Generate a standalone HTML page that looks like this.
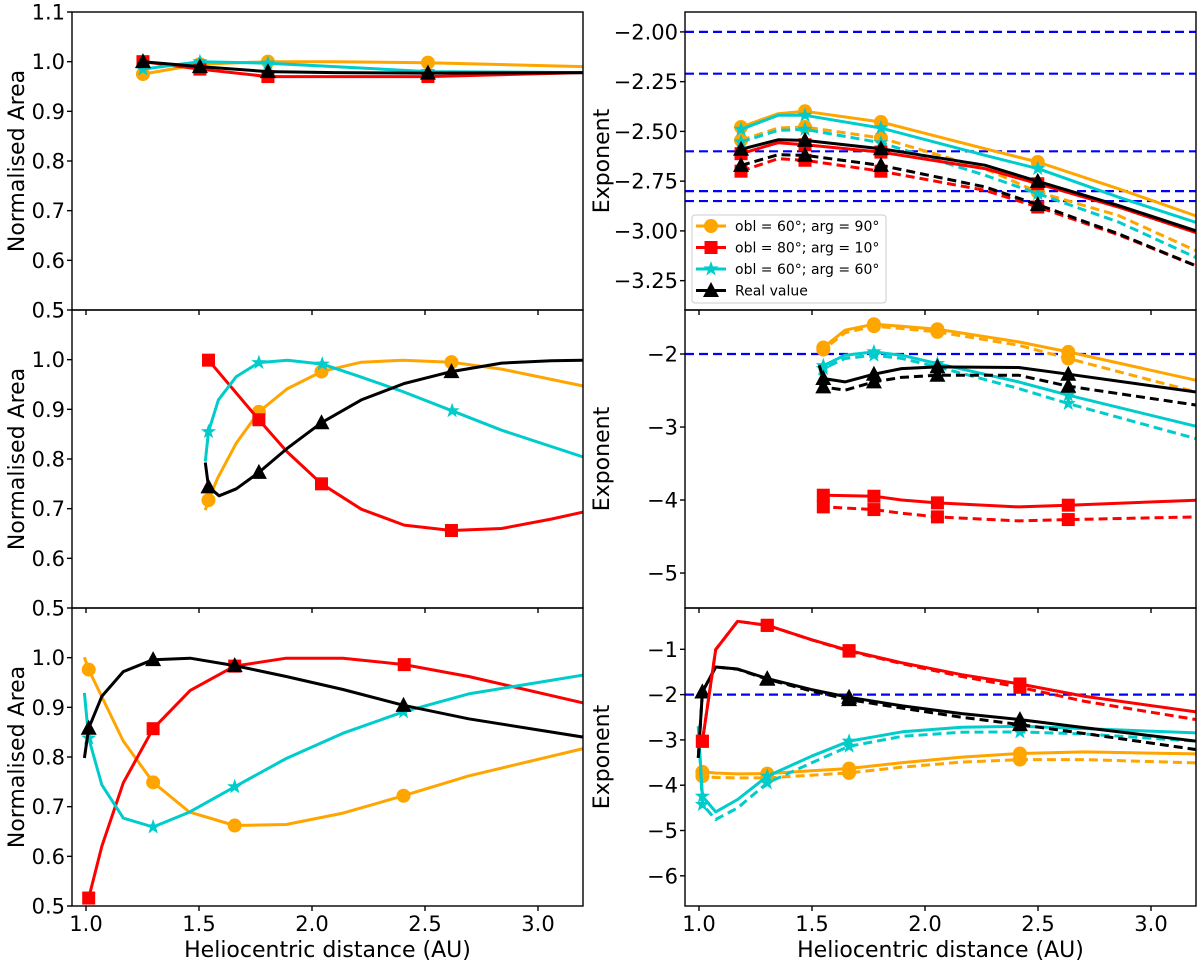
<!DOCTYPE html>
<html><head><meta charset="utf-8">
<style>
html,body{margin:0;padding:0;background:#fff;}
svg{display:block;font-family:"DejaVu Sans","Liberation Sans",sans-serif;}
</style></head>
<body>
<svg id="fig" width="1200" height="963" viewBox="0 0 1200 963" xmlns="http://www.w3.org/2000/svg"></svg>
<script>
// ---------- DATA ----------
const L1_x = [1.252,1.504,1.805,2.1,2.513,3.2];
const L1_orange_y = [0.975,0.995,1.0,1.0,0.998,0.99];
const L1_red_y = [1.0,0.985,0.97,0.97,0.97,0.978];
const L1_cyan_y = [0.985,1.0,0.997,0.99,0.98,0.978];
const L1_black_y = [1.0,0.99,0.98,0.978,0.977,0.978];
const L1_mk = [0,1,2,4];

const L2_orange_x = [1.528,1.542,1.582,1.665,1.765,1.889,2.042,2.218,2.401,2.617,2.839,3.2];
const L2_orange_y = [0.697,0.717,0.761,0.832,0.895,0.941,0.976,0.995,0.999,0.995,0.981,0.947];
const L2_orange_mk = [1,4,6,9];
const L2_red_x = [1.542,1.765,1.889,2.042,2.218,2.408,2.617,2.839,3.058,3.2];
const L2_red_y = [0.999,0.879,0.815,0.750,0.699,0.667,0.656,0.660,0.679,0.693];
const L2_red_mk = [0,1,3,6];
const L2_cyan_x = [1.528,1.542,1.586,1.665,1.765,1.892,2.045,2.211,2.401,2.620,2.839,3.2];
const L2_cyan_y = [0.795,0.855,0.919,0.966,0.994,0.999,0.991,0.966,0.936,0.897,0.858,0.804];
const L2_cyan_mk = [1,4,6,9];
const L2_black_x = [1.528,1.542,1.589,1.665,1.765,1.889,2.042,2.218,2.408,2.617,2.839,3.058,3.2];
const L2_black_y = [0.793,0.744,0.726,0.740,0.773,0.821,0.873,0.919,0.952,0.976,0.993,0.998,0.999];
const L2_black_mk = [1,4,6,9];

const L3_orange_x = [0.993,1.012,1.165,1.297,1.458,1.658,1.886,2.137,2.405,2.693,3.2];
const L3_orange_y = [1.001,0.976,0.832,0.749,0.689,0.662,0.664,0.687,0.722,0.762,0.817];
const L3_orange_mk = [1,3,5,8];
const L3_red_x = [1.012,1.070,1.165,1.297,1.461,1.658,1.886,2.137,2.408,2.693,3.2];
const L3_red_y = [0.516,0.620,0.748,0.857,0.934,0.983,0.999,0.999,0.986,0.962,0.909];
const L3_red_mk = [0,3,5,8];
const L3_cyan_x = [0.993,1.012,1.070,1.165,1.297,1.458,1.658,1.886,2.137,2.405,2.693,3.2];
const L3_cyan_y = [0.929,0.838,0.744,0.677,0.659,0.689,0.740,0.797,0.848,0.891,0.927,0.965];
const L3_cyan_mk = [1,4,6,9];
const L3_black_x = [0.993,1.012,1.070,1.165,1.297,1.461,1.658,1.886,2.137,2.405,2.693,3.2];
const L3_black_y = [0.798,0.858,0.922,0.972,0.996,0.999,0.984,0.962,0.936,0.904,0.877,0.840];
const L3_black_mk = [1,4,6,9];

const R1_x = [1.186,1.35,1.469,1.805,2.265,2.499,2.855,3.2];
const R1_mk = [0,2,3,5];
const R1_orange_y = [-2.478,-2.411,-2.399,-2.453,-2.587,-2.654,-2.788,-2.925];
const R1_orange_d = [-2.545,-2.483,-2.478,-2.533,-2.687,-2.805,-2.922,-3.100];
const R1_cyan_y = [-2.490,-2.419,-2.419,-2.483,-2.620,-2.687,-2.830,-2.958];
const R1_cyan_d = [-2.553,-2.495,-2.490,-2.557,-2.720,-2.813,-2.955,-3.134];
const R1_black_y = [-2.590,-2.542,-2.545,-2.587,-2.670,-2.751,-2.872,-3.000];
const R1_black_d = [-2.671,-2.617,-2.620,-2.671,-2.779,-2.868,-3.014,-3.176];
const R1_red_y = [-2.612,-2.557,-2.567,-2.604,-2.687,-2.763,-2.880,-3.009];
const R1_red_d = [-2.700,-2.637,-2.645,-2.700,-2.796,-2.880,-3.019,-3.176];
const R1_ref = [-2.00,-2.21,-2.60,-2.80,-2.85];

const R2_x = [1.532,1.55,1.646,1.774,1.896,2.055,2.414,2.634,3.2];
const R2_mk = [1,3,5,7];
const R2_orange_y = [-1.95,-1.911,-1.674,-1.592,-1.62,-1.660,-1.834,-1.971,-2.36];
const R2_orange_d = [-1.98,-1.939,-1.710,-1.619,-1.65,-1.697,-1.879,-2.062,-2.52];
const R2_cyan_y = [-2.222,-2.16,-2.016,-1.971,-2.016,-2.131,-2.382,-2.564,-2.99];
const R2_cyan_d = [-2.290,-2.20,-2.062,-2.016,-2.06,-2.176,-2.473,-2.679,-3.16];
const R2_black_y = [-2.153,-2.336,-2.382,-2.277,-2.2,-2.176,-2.185,-2.277,-2.52];
const R2_black_d = [-2.40,-2.450,-2.496,-2.382,-2.32,-2.290,-2.290,-2.441,-2.70];
const R2_red_y = [-3.934,-3.934,-3.94,-3.948,-4.0,-4.039,-4.094,-4.071,-4.003];
const R2_red_d = [-4.094,-4.094,-4.11,-4.131,-4.18,-4.231,-4.286,-4.268,-4.231];
const R2_ref = [-2.0];

const R3_x = [0.997,1.015,1.074,1.171,1.302,1.498,1.664,1.9,2.163,2.42,2.708,3.2];
const R3_mk = [1,4,6,9];
const R3_red_y = [-3.176,-3.03,-1.007,-0.382,-0.471,-0.787,-1.029,-1.30,-1.56,-1.765,-2.04,-2.382];
const R3_red_d = [-3.176,-3.03,-1.007,-0.382,-0.471,-0.79,-1.04,-1.32,-1.60,-1.838,-2.15,-2.551];
const R3_black_y = [-3.397,-1.941,-1.39,-1.434,-1.647,-1.89,-2.059,-2.25,-2.42,-2.551,-2.73,-3.029];
const R3_black_d = [-3.397,-1.941,-1.39,-1.44,-1.66,-1.92,-2.11,-2.30,-2.50,-2.662,-2.86,-3.213];
const R3_cyan_y = [-2.699,-4.243,-4.588,-4.316,-3.801,-3.36,-3.029,-2.82,-2.72,-2.699,-2.75,-2.846];
const R3_cyan_d = [-2.699,-4.426,-4.757,-4.50,-3.949,-3.507,-3.14,-2.92,-2.83,-2.824,-2.87,-3.029];
const R3_orange_y = [-3.654,-3.706,-3.73,-3.75,-3.743,-3.68,-3.632,-3.50,-3.38,-3.301,-3.265,-3.309];
const R3_orange_d = [-3.75,-3.801,-3.83,-3.838,-3.838,-3.78,-3.728,-3.60,-3.49,-3.434,-3.434,-3.507];
const R3_ref = [-2.0];

const L_ticks = [0.5,0.6,0.7,0.8,0.9,1.0];
const R1_ticks = [-2.00,-2.25,-2.50,-2.75,-3.00,-3.25];
const R2_ticks = [-2,-3,-4,-5];
const R3_ticks = [-1,-2,-3,-4,-5,-6];
const X_ticks = [1.0,1.5,2.0,2.5,3.0];
const legend_labels = ["obl = 60$; arg = 90$","obl = 80$; arg = 10$","obl = 60$; arg = 60$","Real value"];

// ---------- DRAWING ----------
const NS = "http://www.w3.org/2000/svg";
const svg = document.getElementById('fig');
const COL = {orange:'#ffa500', red:'#ff0000', cyan:'#00cccc', black:'#000000'};
const MK = {orange:'circle', red:'square', cyan:'star', black:'triangle'};
const LW = 3;
function mk(tag, attrs, parent){
  const e = document.createElementNS(NS, tag);
  for (const k in attrs) e.setAttribute(k, attrs[k]);
  (parent||svg).appendChild(e);
  return e;
}
const rows = [[12,310],[310,608],[608,906]];
function makeAxes(col, row, ylo, yhi){
  const x0 = col===0 ? 72 : 685, x1 = col===0 ? 583 : 1196;
  const y0 = rows[row][0], y1 = rows[row][1];
  const sx = v => x0 + 14 + (v-1)*226;
  const sy = v => y1 - (v-ylo)/(yhi-ylo)*(y1-y0);
  const cid = 'clip'+col+row;
  const cp = mk('clipPath',{id:cid});
  mk('rect',{x:x0,y:y0,width:x1-x0,height:y1-y0},cp);
  const g = mk('g',{'clip-path':'url(#'+cid+')'});
  return {x0,x1,y0,y1,sx,sy,g};
}
function drawLine(ax, xs, ys, color, dashed, name){
  const d = xs.map((x,i)=>(i?'L':'M')+ax.sx(x).toFixed(1)+' '+ax.sy(ys[i]).toFixed(1)).join(' ');
  const p = mk('path',{d:d,fill:'none',stroke:color,'stroke-width':LW,'stroke-linejoin':'round','stroke-dasharray':dashed?'9,5':'none'},ax.g);
  
  
}
function marker(parent, type, cx, cy, color, name){
  let e;
  if (type==='circle') e = mk('circle',{cx:cx,cy:cy,r:7,fill:color},parent);
  else if (type==='square') e = mk('rect',{x:cx-6.5,y:cy-6.5,width:13,height:13,fill:color},parent);
  else if (type==='triangle') e = mk('polygon',{points:`${cx},${cy-8.5} ${cx+8},${cy+6.5} ${cx-8},${cy+6.5}`,fill:color},parent);
  else {
    let pts=[];
    for(let i=0;i<10;i++){const r=i%2?3.2:8;const a=-Math.PI/2+i*Math.PI/5;pts.push((cx+r*Math.cos(a)).toFixed(1)+','+(cy+r*Math.sin(a)).toFixed(1));}
    e = mk('polygon',{points:pts.join(' '),fill:color},parent);
  }
  
  
}
function drawMarkers(ax, xs, ys, idx, series, name){
  idx.forEach(i=>marker(ax.g, MK[series], ax.sx(xs[i]), ax.sy(ys[i]), COL[series], name));
}
function refLine(ax, v){
  const l = mk('line',{x1:ax.x0,x2:ax.x1,y1:ax.sy(v),y2:ax.sy(v),stroke:'#0000ff','stroke-width':2.2,'stroke-dasharray':'9,5'},ax.g);
  
  
}
function frame(ax, yticks, fmt, xlabels, ylab){
  const f = mk('rect',{x:ax.x0,y:ax.y0,width:ax.x1-ax.x0,height:ax.y1-ax.y0,fill:'none',stroke:'#000','stroke-width':1.4});
  
  
  yticks.forEach(v=>{
    const y = ax.sy(v);
    mk('line',{x1:ax.x0-5,x2:ax.x0,y1:y,y2:y,stroke:'#000','stroke-width':1.4});
    const t = mk('text',{x:ax.x0-7,y:y+7.5,'text-anchor':'end','font-size':21,fill:'#000'});
    t.textContent = fmt(v);
    
    
  });
  X_ticks.forEach(v=>{
    const x = ax.sx(v);
    mk('line',{x1:x,x2:x,y1:ax.y1,y2:ax.y1+5,stroke:'#000','stroke-width':1.4});
    if (xlabels){
      const t = mk('text',{x:x,y:ax.y1+25,'text-anchor':'middle','font-size':21,fill:'#000'});
      t.textContent = v.toFixed(1);
      
      
    }
  });
  const lx = ax.x0 - (ax.x0<300 ? 48 : 76), ly = (ax.y0+ax.y1)/2;
  const yl = mk('text',{x:lx,y:ly,'text-anchor':'middle','font-size':22,fill:'#000',transform:`rotate(-90 ${lx} ${ly})`});
  yl.textContent = ylab;
  
  
  if (xlabels){
    const xl = mk('text',{x:(ax.x0+ax.x1)/2,y:ax.y1+51,'text-anchor':'middle','font-size':22,fill:'#000'});
    xl.textContent = 'Heliocentric distance (AU)';
    
    
  }
}
const minus = s => s.replace('-', '\u2212');
const f1 = v => minus(v.toFixed(1));
const f2 = v => minus(v.toFixed(2));
const f0 = v => minus(v.toFixed(0));

const L1 = makeAxes(0,0,0.5,1.1);
[['orange',L1_orange_y],['red',L1_red_y],['cyan',L1_cyan_y],['black',L1_black_y]].forEach(([s,ys])=>{
  drawLine(L1, L1_x, ys, COL[s], false, s+'-line');
  drawMarkers(L1, L1_x, ys, L1_mk, s, s+'-marker');
});
frame(L1, L_ticks.concat([1.1]), f1, false, 'Normalised Area');

const L2 = makeAxes(0,1,0.5,1.1);
[['orange',L2_orange_x,L2_orange_y,L2_orange_mk],['red',L2_red_x,L2_red_y,L2_red_mk],['cyan',L2_cyan_x,L2_cyan_y,L2_cyan_mk],['black',L2_black_x,L2_black_y,L2_black_mk]].forEach(([s,xs,ys,m])=>{
  drawLine(L2, xs, ys, COL[s], false, s+'-line');
  drawMarkers(L2, xs, ys, m, s, s+'-marker');
});
frame(L2, L_ticks, f1, false, 'Normalised Area');

const L3 = makeAxes(0,2,0.5,1.1);
[['orange',L3_orange_x,L3_orange_y,L3_orange_mk],['red',L3_red_x,L3_red_y,L3_red_mk],['cyan',L3_cyan_x,L3_cyan_y,L3_cyan_mk],['black',L3_black_x,L3_black_y,L3_black_mk]].forEach(([s,xs,ys,m])=>{
  drawLine(L3, xs, ys, COL[s], false, s+'-line');
  drawMarkers(L3, xs, ys, m, s, s+'-marker');
});
frame(L3, L_ticks, f1, true, 'Normalised Area');

function rightPanel(row, ylo, yhi, xs, mkIdx, refs, series, ticks, fmt, xl){
  const ax = makeAxes(1,row,ylo,yhi);
  refs.forEach(v=>refLine(ax, v));
  series.forEach(([s,ys,ds])=>{
    drawLine(ax, xs, ds, COL[s], true, s+'-dashed-line');
    drawMarkers(ax, xs, ds, mkIdx, s, s+'-marker');
    drawLine(ax, xs, ys, COL[s], false, s+'-line');
    drawMarkers(ax, xs, ys, mkIdx, s, s+'-marker');
  });
  frame(ax, ticks, fmt, xl, 'Exponent');
  return ax;
}
rightPanel(0, -1.90-298/199, -1.90, R1_x, R1_mk, R1_ref,
  [['orange',R1_orange_y,R1_orange_d],['cyan',R1_cyan_y,R1_cyan_d],['red',R1_red_y,R1_red_d],['black',R1_black_y,R1_black_d]], R1_ticks, f2, false);
rightPanel(1, -1.397-298/73, -1.397, R2_x, R2_mk, R2_ref,
  [['orange',R2_orange_y,R2_orange_d],['cyan',R2_cyan_y,R2_cyan_d],['red',R2_red_y,R2_red_d],['black',R2_black_y,R2_black_d]], R2_ticks, f0, false);
rightPanel(2, -0.088-298/45.3, -0.088, R3_x, R3_mk, R3_ref,
  [['orange',R3_orange_y,R3_orange_d],['cyan',R3_cyan_y,R3_cyan_d],['black',R3_black_y,R3_black_d],['red',R3_red_y,R3_red_d]], R3_ticks, f0, true);

const lg = mk('g',{});


mk('rect',{x:692,y:215,width:194,height:88,rx:3,fill:'#fff','fill-opacity':0.85,stroke:'#cccccc','stroke-width':1},lg);
['orange','red','cyan','black'].forEach((s,i)=>{
  const y = 226 + i*21.5;
  const row = mk('g',{},lg);
  
  
  mk('line',{x1:696,x2:726,y1:y,y2:y,stroke:COL[s],'stroke-width':LW},row);
  marker(row, MK[s], 711, y, COL[s], 'legend-marker');
  const t = mk('text',{x:735,y:y+5,'font-size':14,fill:'#000'},row);
  t.textContent = legend_labels[i].replace(/\$/g,'\u00b0');
});
</script>
</body></html>
